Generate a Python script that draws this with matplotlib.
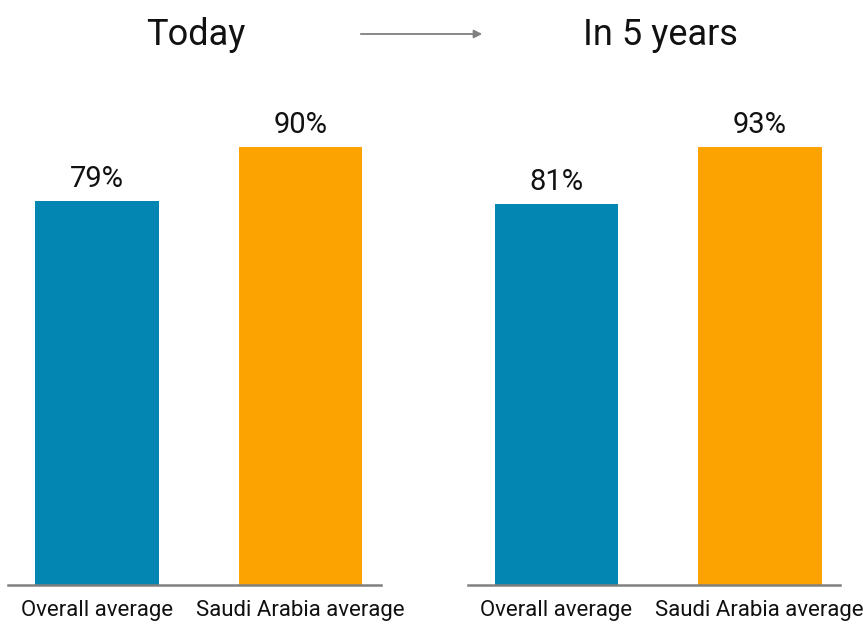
import matplotlib
matplotlib.use('Agg')
import matplotlib.pyplot as plt
from matplotlib import font_manager

# Dados
categories = ['Overall average', 'Saudi Arabia average']
today_values = [79, 90]
future_values = [81, 93]
panel_titles = ['Today', 'In 5 years']

colors = ['#0386B1', '#FCA301']
axis_gray = '#808080'

names = {f.name for f in font_manager.fontManager.ttflist}
family = 'Liberation Sans Narrow' if 'Liberation Sans Narrow' in names else 'Roboto'
plt.rcParams['font.family'] = [family, 'DejaVu Sans']

fig = plt.figure(figsize=(8.63, 6.25), dpi=100)

# posicao dos eixos em pixels (esquerda, direita)
W, H = 863, 625
panels = [(8, 381, today_values), (468, 840, future_values)]
bottom_px, top_px = 585, 100
bar_top_px = 147

for left_px, right_px, vals in panels:
    ax = fig.add_axes([left_px / W, 1 - bottom_px / H, (right_px - left_px) / W, (bottom_px - top_px) / H])
    x = range(len(vals))
    ax.bar(x, vals, width=0.608, color=colors, zorder=2)
    # maior barra sempre na mesma altura
    px_per_unit = (bottom_px - bar_top_px) / max(vals)
    ax.set_ylim(0, (bottom_px - top_px) / px_per_unit)
    ax.set_xlim(-0.435, 1.395)
    for xi, v in zip(x, vals):
        ax.text(xi, v + 1.6, f'{v}%', ha='center', va='bottom', fontsize=21, color='#111111')
    ax.set_xticks(list(x))
    ax.set_xticklabels(categories, fontsize=16, color='#111111')
    ax.tick_params(axis='x', length=0, pad=11)
    ax.set_yticks([])
    for s in ['top', 'right', 'left']:
        ax.spines[s].set_visible(False)
    ax.spines['bottom'].set_color(axis_gray)
    ax.spines['bottom'].set_linewidth(1.8)
    ax.patch.set_alpha(0)

# titulos
fig.text(196 / W, 1 - 35 / H, panel_titles[0], ha='center', va='center', fontsize=26, color='#111111')
fig.text(660 / W, 1 - 35 / H, panel_titles[1], ha='center', va='center', fontsize=26, color='#111111')

# seta entre os titulos
fig.add_artist(matplotlib.patches.FancyArrowPatch(
    (358 / W, 1 - 34 / H), (485 / W, 1 - 34 / H), transform=fig.transFigure,
    arrowstyle='-|>', mutation_scale=12, color=axis_gray, linewidth=1.3))

fig.savefig('out.png', dpi=100)
